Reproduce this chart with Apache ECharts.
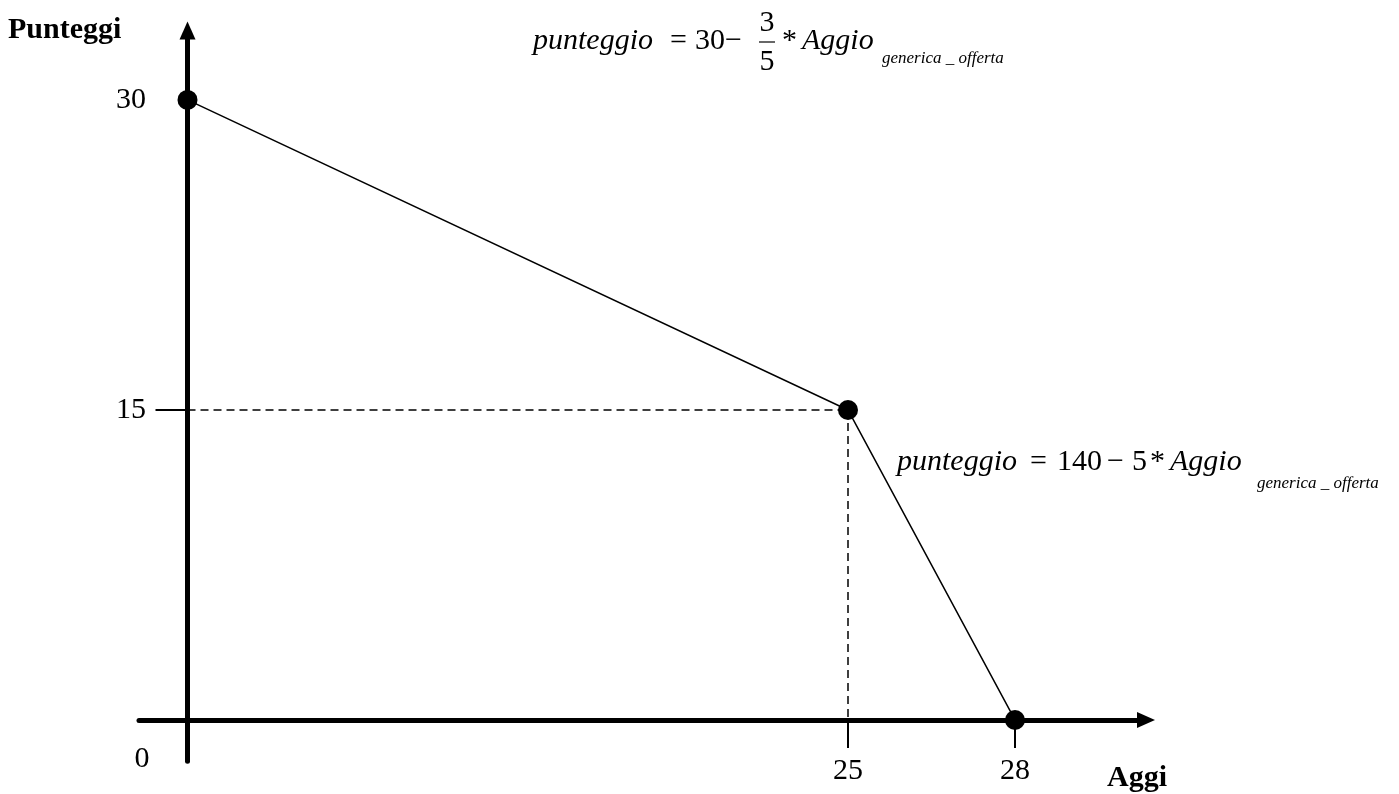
<!DOCTYPE html>
<html>
<head>
<meta charset="utf-8">
<script src="https://cdn.jsdelivr.net/npm/echarts@6/dist/echarts.min.js"></script>
<style>
    html, body { margin: 0; padding: 0; background: #fff; }
    #chart { width: 1399px; height: 794px; }
</style>
</head>
<body>
<div id="chart"></div>
<script>
// dati del grafico
const aggi = [0, 25, 28];
const punteggi = [30, 15, 0];
const aggiTicks = [25, 28];
const punteggiTicks = [15, 30];

// il disegno originale non è in scala oltre 25: il tratto 25-28 è allungato
const STRETCH = 2.107;
const toAxis = v => (v <= 25 ? v : 25 + (v - 25) * STRETCH);
const fromAxis = u => (u <= 25 ? u : 25 + (u - 25) / STRETCH);

const serif = 'Liberation Serif, Times New Roman, serif';
const chart = echarts.init(document.getElementById('chart'));

// pezzo di testo posizionato a mano (formule)
const txt = (text, x, y, font, align) => ({
    type: 'text', x, y,
    style: { text, font: font + ' ' + serif, fill: '#000', align: align || 'left', verticalAlign: 'middle' }
});

const options = {
    animation: false,
    grid: {
        left: 139,
        top: 30.5,
        width: 1007,
        height: 730.8,
        containLabel: false,
        outerBoundsMode: 'none'
    },
    xAxis: {
        type: 'value',
        min: -1.836,
        max: 36.28,
        splitLine: { show: false },
        axisLine: {
            onZero: true,
            symbol: ['none', 'triangle'],
            symbolSize: [16, 18],
            lineStyle: { color: '#000', width: 5 }
        },
        axisTick: {
            show: true,
            customValues: aggiTicks.map(toAxis),
            length: 28,
            lineStyle: { color: '#000', width: 2 }
        },
        axisLabel: {
            customValues: aggiTicks.map(toAxis),
            formatter: v => String(Math.round(fromAxis(v))),
            // le etichette restano sul bordo della griglia, non sulla linea dello zero
            margin: -5,
            color: '#000',
            fontFamily: serif,
            fontSize: 30
        }
    },
    yAxis: {
        type: 'value',
        min: -2,
        max: 33.36,
        splitLine: { show: false },
        axisLine: {
            onZero: true,
            symbol: ['none', 'triangle'],
            symbolSize: [16, 18],
            lineStyle: { color: '#000', width: 5 }
        },
        axisTick: {
            show: true,
            customValues: [punteggiTicks[0]],
            length: 32,
            lineStyle: { color: '#000', width: 2 }
        },
        axisLabel: {
            customValues: punteggiTicks,
            margin: -7,
            color: '#000',
            fontFamily: serif,
            fontSize: 30
        }
    },
    series: [
        {
            type: 'line',
            clip: false,
            symbol: 'circle',
            symbolSize: 20,
            itemStyle: { color: '#000' },
            lineStyle: { color: '#000', width: 1.5 },
            data: aggi.map((a, i) => [toAxis(a), punteggi[i]]),
            markLine: {
                silent: true,
                symbol: 'none',
                label: { show: false },
                lineStyle: { color: '#000', width: 1.5, type: [8, 5] },
                data: [
                    [{ coord: [0, punteggi[1]] }, { coord: [toAxis(aggi[1]), punteggi[1]] }],
                    [{ coord: [toAxis(aggi[1]), punteggi[1]] }, { coord: [toAxis(aggi[1]), 0] }]
                ]
            }
        }
    ],
    graphic: [
        // nomi degli assi
        { type: 'text', left: 8, top: 15, style: { text: 'Punteggi', font: 'bold 30px ' + serif, fill: '#000' } },
        { type: 'text', left: 1107, top: 763, style: { text: 'Aggi', font: 'bold 30px ' + serif, fill: '#000' } },
        txt('0', 142, 759, '30px', 'center'),

        // prima formula
        txt('punteggio', 533, 41, 'italic 30px'),
        txt('=', 670, 41, '30px'),
        txt('30', 695, 41, '30px'),
        txt('−', 725, 41, '30px'),
        txt('3', 767, 23, '30px', 'center'),
        { type: 'line', shape: { x1: 759, y1: 42, x2: 775, y2: 42 }, style: { stroke: '#000', lineWidth: 1.2 } },
        txt('5', 767, 62, '30px', 'center'),
        txt('*', 782, 41, '30px'),
        txt('Aggio', 802, 41, 'italic 30px'),
        txt('generica _ offerta', 882, 59, 'italic 17px'),

        // seconda formula
        txt('punteggio', 897, 462, 'italic 30px'),
        txt('=', 1030, 462, '30px'),
        txt('140', 1057, 462, '30px'),
        txt('−', 1107, 462, '30px'),
        txt('5', 1132, 462, '30px'),
        txt('*', 1150, 462, '30px'),
        txt('Aggio', 1170, 462, 'italic 30px'),
        txt('generica _ offerta', 1257, 484, 'italic 17px')
    ]
};

chart.setOption(options);
</script>
</body>
</html>
